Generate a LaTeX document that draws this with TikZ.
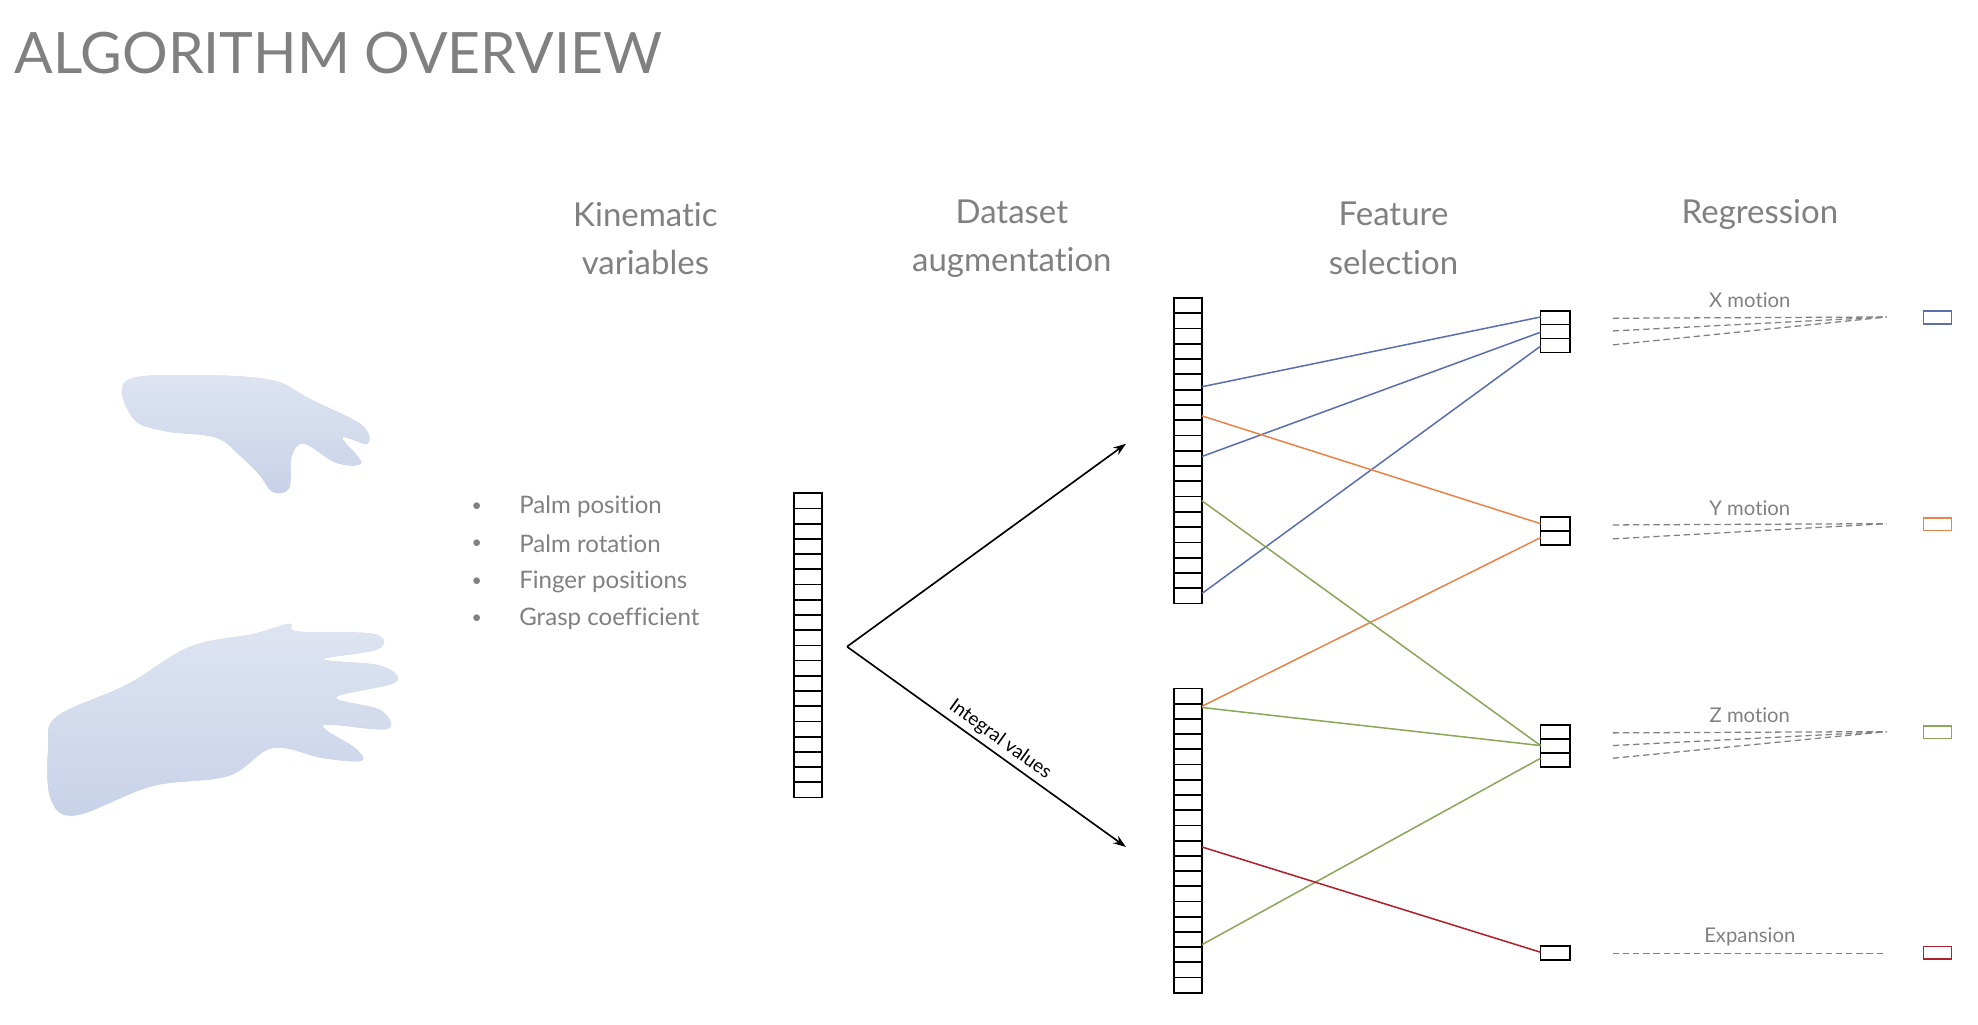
\documentclass[tikz,border=0pt]{standalone}
\usepackage{fontspec}
\setmainfont[Ligatures={NoCommon,NoRare},Contextuals=NoAlternate]{Lato}
\usetikzlibrary{arrows.meta}
\definecolor{tg}{HTML}{808080}
\definecolor{cb}{HTML}{5B6FAE}
\definecolor{co}{HTML}{E8834A}
\definecolor{cg}{HTML}{8CA65A}
\definecolor{cr}{HTML}{B0202A}
\definecolor{hand}{HTML}{C8D2E8}
\begin{document}
\begin{tikzpicture}[x=1pt,y=-1pt,
  hdr/.style={text=tg,font=\fontsize{26}{38}\selectfont,align=center},
  bul/.style={text=tg,font=\fontsize{19}{22}\selectfont,anchor=west},
  lab/.style={text=tg,font=\fontsize{16}{18}\selectfont},
  cell/.style={draw=black,line width=1.4pt},
  cn/.style={line width=1.2pt},
  dsh/.style={draw=tg,dashed,line width=1pt,dash pattern=on 5pt off 3pt},
  rb/.style={line width=1.3pt,minimum width=22pt,minimum height=10pt,inner sep=0pt}]
\useasboundingbox (0,0) rectangle (1560,808);
\node[anchor=west,text=tg,font=\fontsize{45}{48}\selectfont] (title) at (8,42) {ALGORITHM OVERVIEW};
% hands
\fill[hand,shading=axis,top color=hand!60!white,bottom color=hand] plot[smooth cycle,tension=0.6] coordinates{(100,300)(160,296)(215,300)(245,315)(285,335)(290,350)(270,345)(285,365)(265,365)(240,350)(230,360)(228,385)(215,388)(205,375)(190,360)(170,345)(130,340)(105,330)};
\fill[hand,shading=axis,top color=hand!60!white,bottom color=hand] plot[smooth cycle,tension=0.6] coordinates{(38,590)(45,565)(100,540)(150,510)(200,500)(228,492)(235,498)(295,500)(298,512)(255,520)(300,525)(312,538)(265,550)(300,560)(305,575)(255,572)(280,590)(285,600)(255,598)(215,590)(180,612)(120,620)(60,643)(40,630)};
% headers
\node[hdr] (h1) at (509,188) {Kinematic\\variables};
\node[hdr] (h2) at (798,188) {Dataset\\augmentation};
\node[hdr] (h3) at (1099,188) {Feature\\selection};
\node[hdr] (h4) at (1388,169) {Regression};
% bullets
\foreach \y/\t in {400/Palm position,429/Palm rotation,459/Finger positions,488/Grasp coefficient}{
  \node[text=tg,font=\fontsize{14}{14}\selectfont] at (376,\y) {•};
  \node[bul] at (406,\y) {\t};}
% input column
\foreach \i in {0,...,19}{\draw[cell] (626,389+12*\i) rectangle (648,401+12*\i);}
% column A and B
\foreach \i in {0,...,19}{\draw[cell] (926,235+12.05*\i) rectangle (948,247.05+12.05*\i);}
\foreach \i in {0,...,19}{\draw[cell] (926,543+12*\i) rectangle (948,555+12*\i);}
% outputs
\foreach \i in {0,1,2}{\draw[cell] (1215,245+11*\i) rectangle (1238,256+11*\i);}
\foreach \i in {0,1}{\draw[cell] (1215,408+11*\i) rectangle (1238,419+11*\i);}
\foreach \i in {0,1,2}{\draw[cell] (1215,572+11*\i) rectangle (1238,583+11*\i);}
\draw[cell] (1215,746) rectangle (1238,757);
% arrows
\coordinate (o) at (668,510);
\coordinate (ta) at (888,350);
\coordinate (tb) at (888,668);
\draw[line width=1.3pt,-{Stealth[length=10pt,width=7pt]}] (o) -- (ta);
\draw[line width=1.3pt,-{Stealth[length=10pt,width=7pt]}] (o) -- node[sloped,above,text=black,font=\fontsize{15}{16}\selectfont,pos=0.52] {Integral values} (tb);
% connections
\draw[cn,cb] (948,305) -- (1215,250);
\draw[cn,cb] (948,360) -- (1215,262);
\draw[cn,cb] (948,468) -- (1215,273);
\draw[cn,co] (948,328) -- (1215,413);
\draw[cn,co] (948,557) -- (1215,424);
\draw[cn,cg] (948,395) -- (1215,588);
\draw[cn,cg] (948,558) -- (1215,588);
\draw[cn,cg] (948,745) -- (1215,598);
\draw[cn,cr] (948,668) -- (1215,751);
% dashed
\foreach \y in {251,261,272}{\draw[dsh] (1272,\y) -- (1488,250);}
\foreach \y in {414,425}{\draw[dsh] (1272,\y) -- (1488,413);}
\foreach \y in {578,588,598}{\draw[dsh] (1272,\y) -- (1488,577);}
\draw[dsh] (1272,752) -- (1488,752);
\node[lab] (lx) at (1380,237) {X motion};
\node[lab] (ly) at (1380,401) {Y motion};
\node[lab] (lz) at (1380,564) {Z motion};
\node[lab] (le) at (1380,739) {Expansion};
\node[rb,draw=cb] (bx) at (1528,250.5) {};
\node[rb,draw=co] (by) at (1528,413.5) {};
\node[rb,draw=cg] (bz) at (1528,577.5) {};
\node[rb,draw=cr] (be) at (1528,751.5) {};
\end{tikzpicture}
\end{document}
